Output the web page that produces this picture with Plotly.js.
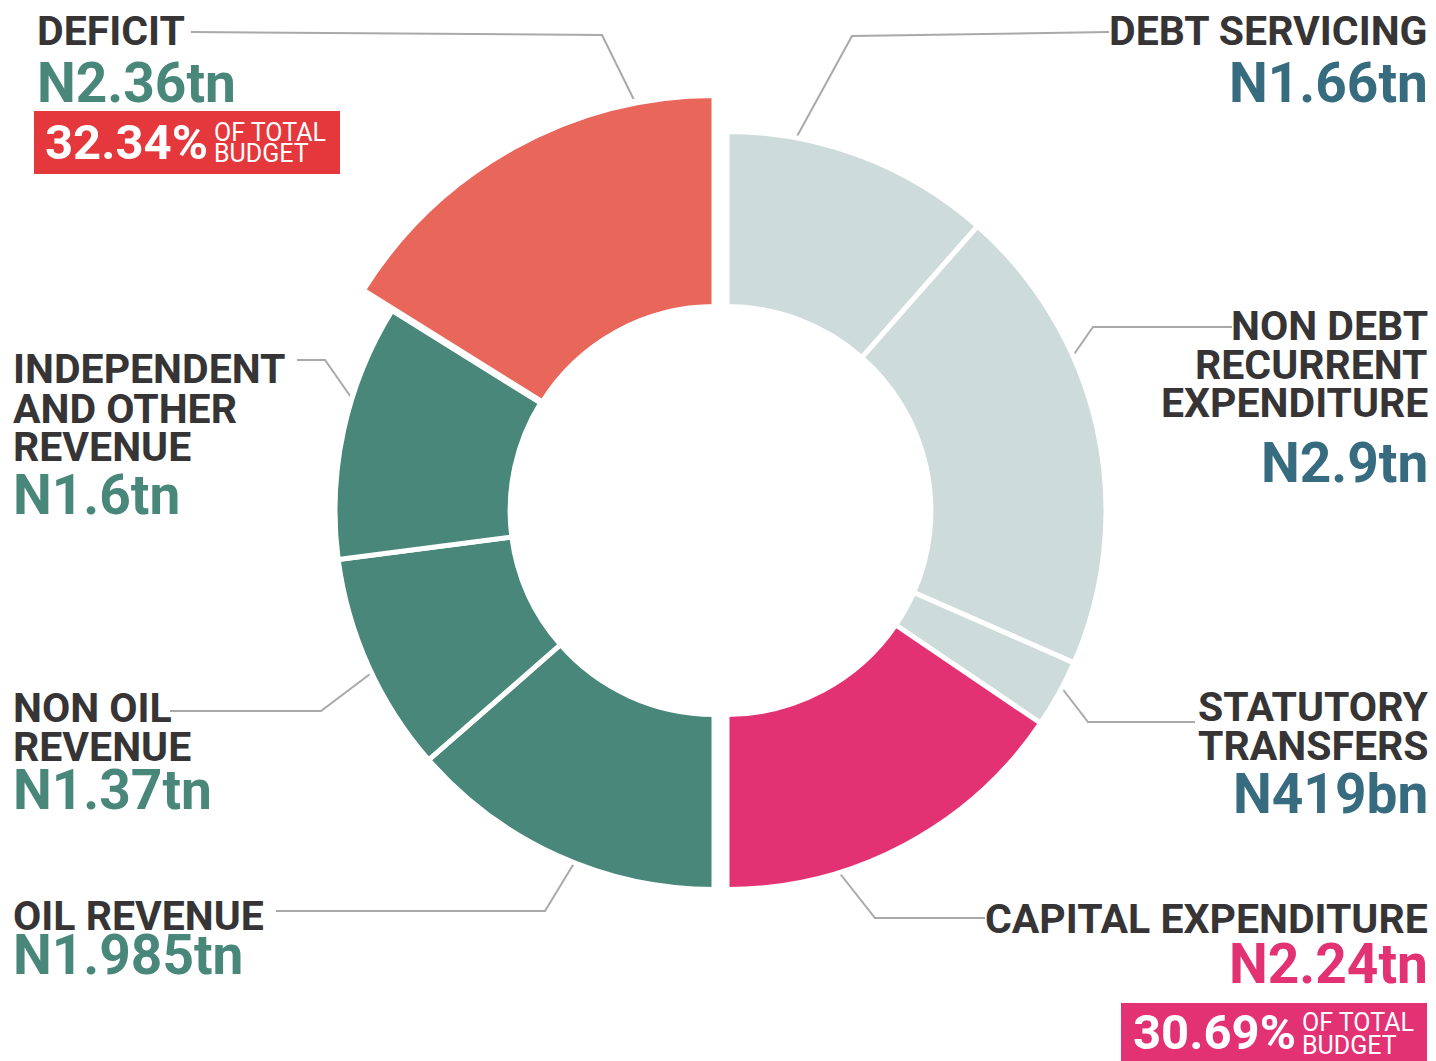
<!DOCTYPE html>
<html>
<head>
<meta charset="utf-8">
<script src="https://cdn.plot.ly/plotly-3.0.1.min.js"></script>
<style>html,body{margin:0;padding:0;background:#fff;}#chart{width:1436px;height:1061px;}</style>
</head>
<body>
<div id="chart"></div>
<script>
// ---- data (trillion naira) ----
const expenditureLabels = [['DEBT SERVICING'], ['NON DEBT', 'RECURRENT', 'EXPENDITURE'], ['STATUTORY', 'TRANSFERS'], ['CAPITAL EXPENDITURE']];
const expenditureValues = [1.66, 2.9, 0.419, 2.24];
const expenditureText = ['N1.66tn', 'N2.9tn', 'N419bn', 'N2.24tn'];

const revenueLabels = [['OIL REVENUE'], ['NON OIL', 'REVENUE'], ['INDEPENDENT', 'AND OTHER', 'REVENUE'], ['DEFICIT']];
const revenueValues = [1.985, 1.37, 1.6, 2.36];
const revenueText = ['N1.985tn', 'N1.37tn', 'N1.6tn', 'N2.36tn'];

const shareText = ['32.34%', '30.69%'];   // deficit, capital expenditure
const shareNote = ['OF TOTAL', 'BUDGET'];

// ---- layout helpers ----
const W = 1436, H = 1061;
const px = x => x / W;
const py = y => 1 - y / H;
const sum = a => a.reduce((s, v) => s + v, 0);

const C = {
  light: '#CDDCDB', green: '#48877A', red: '#E8665A', pink: '#E33274',
  dark: '#363435', blue: '#376B7F', box: '#E5383D', line: '#A9A9AB', none: 'rgba(0,0,0,0)'
};

function domainFor(cx, cy, r) {
  return { x: [px(cx - r), px(cx + r)], y: [py(cy + r), py(cy - r)] };
}

const CY = 510.5;
const traces = [
  { // expenditure half (right)
    type: 'pie', sort: false, direction: 'clockwise', rotation: 0,
    values: [...expenditureValues, sum(expenditureValues)],
    marker: { colors: [C.light, C.light, C.light, C.pink, C.none],
              line: { color: '#ffffff', width: [5, 5, 5, 5, 0] } },
    hole: 0.538, textinfo: 'none', hoverinfo: 'none', showlegend: false,
    domain: domainFor(727, CY, 379)
  },
  { // revenue half (left)
    type: 'pie', sort: false, direction: 'clockwise', rotation: 180,
    values: [...revenueValues, sum(revenueValues)],
    marker: { colors: [C.green, C.green, C.green, C.none, C.none],
              line: { color: '#ffffff', width: [5, 5, 5, 0, 0] } },
    hole: 0.538, textinfo: 'none', hoverinfo: 'none', showlegend: false,
    domain: domainFor(714, CY, 379)
  },
  { // deficit, drawn larger
    type: 'pie', sort: false, direction: 'clockwise', rotation: 180,
    values: [...revenueValues, sum(revenueValues)],
    marker: { colors: [C.none, C.none, C.none, C.red, C.none],
              line: { color: '#ffffff', width: [0, 0, 0, 7, 0] } },
    hole: 0.488, textinfo: 'none', hoverinfo: 'none', showlegend: false,
    domain: domainFor(715, CY, 416)
  }
];

// label placement (pixels): label line centres, value centre
const expPlace = [
  { lines: [31], value: 83 },
  { lines: [325.5, 364.5, 402.5], value: 463 },
  { lines: [707, 746], value: 794 },
  { lines: [918.5], value: 963.5 }
];
const revPlace = [
  { x: 12, lines: [915.5], value: 955 },
  { x: 12, lines: [708, 747], value: 789.5 },
  { x: 12, lines: [369.5, 408.5, 447.5], value: 495 },
  { x: 36, lines: [31.5], value: 83 }
];
const expValueColor = [C.blue, C.blue, C.blue, C.pink];
const revValueColor = [C.green, C.green, C.green, C.green];

const FONT = 'Roboto, Arial, sans-serif';
const LABEL_SIZE = 41, VALUE_SIZE = 55;
const annotations = [];
function ann(text, x, y, anchor, size, color, weight) {
  annotations.push({
    text: text, xref: 'paper', yref: 'paper', x: px(x), y: py(y),
    xanchor: anchor, yanchor: 'middle', showarrow: false, borderpad: 0,
    font: { family: FONT, size: size, color: color, weight: weight }
  });
}
expenditureLabels.forEach((lines, i) => {
  lines.forEach((t, j) => ann(t, 1429, expPlace[i].lines[j], 'right', LABEL_SIZE, C.dark, 700));
  ann(expenditureText[i], 1429, expPlace[i].value, 'right', VALUE_SIZE, expValueColor[i], 700);
});
revenueLabels.forEach((lines, i) => {
  lines.forEach((t, j) => ann(t, revPlace[i].x, revPlace[i].lines[j], 'left', LABEL_SIZE, C.dark, 700));
  ann(revenueText[i], revPlace[i].x, revPlace[i].value, 'left', VALUE_SIZE, revValueColor[i], 700);
});

// share boxes
const boxes = [
  { x0: 34, x1: 340, y0: 111, y1: 174, color: C.box, bigX: 44, bigY: 142.5, noteX: 213, noteY: [132.5, 153.5] },
  { x0: 1121, x1: 1427, y0: 1003, y1: 1070, color: C.pink, bigX: 1132, bigY: 1032, noteX: 1301, noteY: [1022.5, 1045.5] }
];
const shapes = [];
boxes.forEach((b, i) => {
  shapes.push({ type: 'rect', xref: 'paper', yref: 'paper', x0: px(b.x0), x1: px(b.x1), y0: py(b.y1), y1: py(b.y0),
                fillcolor: b.color, line: { width: 0 }, layer: 'above' });
  ann(shareText[i], b.bigX, b.bigY, 'left', 49, '#ffffff', 700);
  shareNote.forEach((t, j) => ann(t, b.noteX, b.noteY[j], 'left', 25, '#ffffff', 400));
});

// leader lines
const leaders = [
  [[191, 32], [602, 35], [637, 106]],
  [[1109, 32], [852, 36], [795, 140]],
  [[1232, 327], [1093, 327], [1070, 360]],
  [[1195, 722], [1088, 722], [1058, 683]],
  [[985, 918], [875, 918], [838, 871]],
  [[276, 911], [545, 911], [576, 860]],
  [[170, 711], [321, 711], [374, 671]],
  [[297, 360], [325, 360], [353, 400]]
];
leaders.forEach(pts => {
  const d = pts.map((p, k) => (k ? 'L' : 'M') + px(p[0]).toFixed(5) + ',' + py(p[1]).toFixed(5)).join(' ');
  shapes.push({ type: 'path', xref: 'paper', yref: 'paper', path: d, line: { color: C.line, width: 2 }, layer: 'below' });
});

const layout = {
  width: W, height: H, margin: { l: 0, r: 0, t: 0, b: 0 },
  paper_bgcolor: '#ffffff', plot_bgcolor: '#ffffff',
  showlegend: false, annotations: annotations, shapes: shapes
};
Plotly.newPlot('chart', traces, layout, { staticPlot: true, displayModeBar: false });
</script>
</body>
</html>
